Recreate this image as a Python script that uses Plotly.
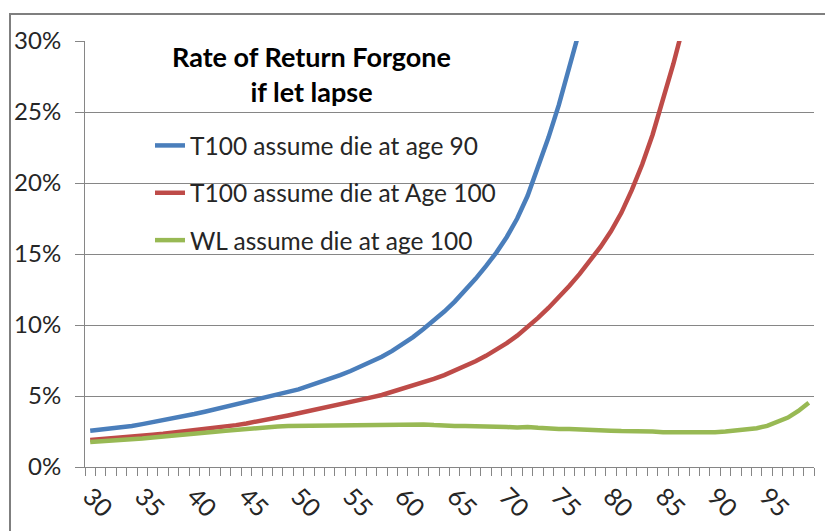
import plotly.graph_objects as go

ages = list(range(30, 100))

t100_die90 = [2.56, 2.63, 2.72, 2.80, 2.89, 3.02, 3.15, 3.28, 3.43, 3.58,
              3.73, 3.89, 4.06, 4.22, 4.38, 4.54, 4.71, 4.92, 5.11, 5.29,
              5.47, 5.70, 5.95, 6.20, 6.47, 6.76, 7.07, 7.40, 7.76, 8.18,
              8.63, 9.15, 9.72, 10.30, 10.95, 11.65, 12.40, 13.25, 14.15, 15.10,
              16.20, 17.50, 19.10, 21.10, 23.20, 25.50, 28.00, 30.80, 34.00]

t100_die100 = [1.90, 1.95, 2.01, 2.07, 2.13, 2.20, 2.27, 2.34, 2.42, 2.49,
               2.56, 2.64, 2.72, 2.83, 2.95, 3.07, 3.19, 3.33, 3.48, 3.63,
               3.78, 3.93, 4.10, 4.26, 4.43, 4.58, 4.74, 4.90, 5.07, 5.28,
               5.50, 5.72, 5.95, 6.20, 6.47, 6.77, 7.10, 7.45, 7.83, 8.25,
               8.72, 9.25, 9.85, 10.50, 11.20, 11.95, 12.75, 13.60, 14.50, 15.50,
               16.60, 17.90, 19.50, 21.30, 23.40, 25.80, 28.40, 31.20, 34.00]

wl_die100 = [1.76, 1.80, 1.85, 1.90, 1.93, 2.00, 2.08, 2.16, 2.25, 2.32,
             2.40, 2.45, 2.49, 2.55, 2.62, 2.70, 2.77, 2.82, 2.85, 2.88,
             2.89, 2.90, 2.92, 2.93, 2.94, 2.96, 2.99, 3.01, 3.01, 3.01,
             3.01, 3.01, 3.00, 2.95, 2.90, 2.89, 2.89, 2.89, 2.89, 2.88,
             2.82, 2.78, 2.82, 2.76, 2.68, 2.68, 2.67, 2.66, 2.64, 2.60,
             2.56, 2.53, 2.54, 2.54, 2.50, 2.45, 2.44, 2.44, 2.44, 2.44,
             2.45, 2.50, 2.57, 2.65, 2.73, 2.90, 3.20, 3.48, 3.95, 4.53]

series_names = ["T100 assume die at age 90", "T100 assume die at Age 100", "WL assume die at age 100"]
series_values = [t100_die90, t100_die100, wl_die100]
series_colors = ["#4A7EBB", "#BE4B48", "#98B954"]

label_step = 5
y_tick_values = [0, 5, 10, 15, 20, 25, 30]
y_tick_labels = [f"{v}%" for v in y_tick_values]

chart_title = "<b>Rate of Return Forgone<br>if let lapse</b>"

# category-axis style: tick marks sit between ages, labels every 5th age
boundary_ticks = [a - 0.5 for a in ages] + [ages[-1] + 0.5]
boundary_text = [str(a) if (a % label_step == 0 and a <= 95) else "" for a in ages] + [""]

FONT = "Lato"
GRID = "#868686"
TEXT = "#262626"

fig = go.Figure()
for i, (name, vals, col) in enumerate(zip(series_names, series_values, series_colors)):
    fig.add_trace(go.Scatter(
        x=ages[:len(vals)], y=vals, mode="lines", name=name,
        legendgroup=f"g{i}",
        line=dict(color=col, width=4.5),
    ))

# the page body adds an 8px offset; design in window pixels
OFF = 8
WIN_W, WIN_H = 833, 531
W, H = WIN_W - OFF, WIN_H - OFF
# plot area in window pixels: x 85..814, y 41..467
PX0, PX1, PY0, PY1 = 85, 814, 41, 467
L, R, T, B = PX0 - OFF, WIN_W - PX1, PY0 - OFF, WIN_H - PY1
pw, ph = PX1 - PX0, PY1 - PY0
cat_px = pw / len(ages)

def px_to_paper_x(px):
    return (px - PX0) / pw

def px_to_paper_y(py):
    return (PY1 - py) / ph

fig.update_layout(
    width=W, height=H,
    margin=dict(l=L, r=R, t=T, b=B, pad=0, autoexpand=False),
    paper_bgcolor="white", plot_bgcolor="white",
    font=dict(family=FONT, size=24, color=TEXT),
    showlegend=True,
    legend=dict(
        x=px_to_paper_x(150), y=px_to_paper_y(123),
        xanchor="left", yanchor="top",
        bgcolor="rgba(0,0,0,0)", borderwidth=0,
        font=dict(family=FONT, size=24.5, color=TEXT),
        tracegroupgap=12.5,
        itemwidth=30,
    ),
    annotations=[dict(
        text=chart_title, xref="paper", yref="paper",
        x=px_to_paper_x(311), y=px_to_paper_y(74),
        xanchor="center", yanchor="middle", align="center",
        showarrow=False,
        font=dict(family=FONT, size=27, color="black"),
    )],
    xaxis=dict(
        range=[ages[0] - 0.5, ages[-1] + 0.5],
        tickmode="array",
        tickvals=boundary_ticks,
        ticktext=boundary_text,
        ticklabelshift=int(round(cat_px / 2)),
        tickangle=45,
        ticks="outside", ticklen=8, tickcolor=GRID, tickwidth=1,
        ticklabelstandoff=-4,
        showgrid=False,
        showline=True, linecolor=GRID, linewidth=1,
        zeroline=False,
        automargin=False,
        tickfont=dict(family=FONT, size=25, color=TEXT),
        fixedrange=True,
    ),
    yaxis=dict(
        range=[0, 30],
        tickmode="array",
        tickvals=y_tick_values,
        ticktext=y_tick_labels,
        ticks="outside", ticklen=9, tickcolor=GRID, tickwidth=1,
        ticklabelstandoff=9,
        showgrid=True, gridcolor=GRID, gridwidth=1,
        showline=True, linecolor=GRID, linewidth=1,
        zeroline=False,
        automargin=False,
        tickfont=dict(family=FONT, size=24, color=TEXT),
        fixedrange=True,
    ),
    shapes=[dict(
        type="rect", xref="paper", yref="paper",
        x0=px_to_paper_x(10), x1=px_to_paper_x(900),
        y0=px_to_paper_y(600), y1=px_to_paper_y(14),
        line=dict(color="#7F7F7F", width=2), fillcolor="rgba(0,0,0,0)",
        layer="below",
    )],
)

fig.write_html("out.html")
